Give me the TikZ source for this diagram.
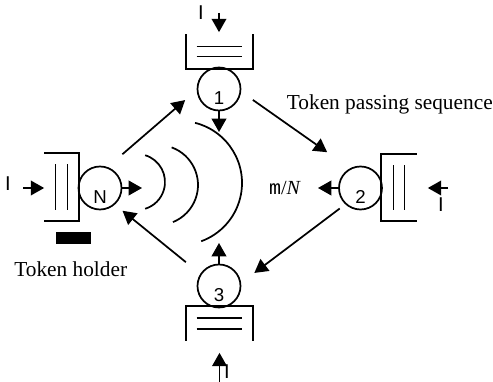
\documentclass[tikz,border=0pt]{standalone}
\usepackage{fontspec}
\setmainfont{Liberation Serif}
\newfontfamily\arialfont{Liberation Sans}
\newfontfamily\ratefont{Liberation Mono}
\usetikzlibrary{arrows.meta,calc}
\tikzset{
  conn/.style={-{Triangle[length=10pt,width=11pt]}},
  station/.style={circle,draw,minimum size=32.25pt,inner sep=0pt},
  queuebox/.style={minimum width=48.75pt,minimum height=24.75pt,inner sep=0pt},
  num/.style={font=\arialfont\fontsize{14}{14}\selectfont,inner sep=0pt,yshift=-7pt},
  inlabel/.style={font=\arialfont\fontsize{15}{15}\selectfont,inner sep=0pt},
  caption/.style={font=\fontsize{16}{16}\selectfont,inner sep=0pt},
}
\begin{document}
\begin{tikzpicture}[x=0.75pt,y=0.75pt,line width=1.3pt]
\useasboundingbox (0,0) rectangle (493,382);

\node[queuebox] (q1) at (219.5,330.5) {};
\node[queuebox] (q3) at (219.5,58.5) {};
\node[queuebox,minimum width=24.75pt,minimum height=49.5pt] (qN) at (61.5,195) {};
\node[queuebox,minimum width=25.5pt,minimum height=48.75pt] (q2) at (399,194.5) {};

\draw (q1.north west) |- (q1.south east) -- (q1.north east);
\draw ($(q1.west)+(10.5,5)$) -- ($(q1.east)+(-10.5,5)$);
\draw ($(q1.west)+(10.5,-5)$) -- ($(q1.east)+(-10.5,-5)$);
\draw (q3.south west) |- (q3.north east) -- (q3.south east);
\draw ($(q3.west)+(10.5,5.5)$) -- ($(q3.east)+(-10.5,5.5)$);
\draw ($(q3.west)+(10.5,-5.5)$) -- ($(q3.east)+(-10.5,-5.5)$);
\draw (qN.north west) -| (qN.south east) -- (qN.south west);
\draw ($(qN.north)+(-6,-11)$) -- ($(qN.south)+(-6,11)$);
\draw ($(qN.north)+(6,-11)$) -- ($(qN.south)+(6,11)$);
\draw (q2.north east) -| (q2.south west) -- (q2.south east);
\draw ($(q2.north)+(-5.5,-11)$) -- ($(q2.south)+(-5.5,11)$);
\draw ($(q2.north)+(5.5,-11)$) -- ($(q2.south)+(5.5,11)$);

\node[station,label={[num]center:1}] (c1) at (219,293) {};
\node[station,label={[num]center:N}] (cN) at (100,194) {};
\node[station,label={[num]center:2}] (c2) at (360.5,194) {};
\node[station,label={[num]center:3}] (c3) at (219,96) {};

\draw[conn,shorten <=14.6pt,shorten >=11.4pt] (cN.70) -- (c1.183);
\draw[conn,shorten <=10.7pt,shorten >=20.9pt] (c1.353) -- (c2.118);
\draw[conn,shorten <=5.2pt,shorten >=12.4pt] (c2.227.6) -- (c3.8.5);
\draw[conn,shorten <=13.9pt,shorten >=7.3pt] (c3.147.4) -- (cN.312.4);

\draw (180,199) ++(76:46.5pt) arc[start angle=76,end angle=-70,radius=46.5pt];
\draw (158,197) ++(70:30pt) arc[start angle=70,end angle=-68,radius=30pt];
\draw (137,200) ++(73:21pt) arc[start angle=73,end angle=-73,radius=21pt];

\coordinate (w1) at (219,250);
\coordinate (wN) at (142,194);
\coordinate (w2) at (318,194);
\coordinate (w3) at (219,139);
\draw[conn] (c1.south) -- (w1);
\draw[conn] (cN.east) -- (wN);
\draw[conn] (c2.west) -- (w2);
\draw[conn] (c3.north) -- (w3);

\coordinate (in1) at (219,369);
\coordinate (inN) at (23,194);
\coordinate (in2) at (448,194);
\coordinate (in3) at (219.5,0);
\draw[conn,shorten >=1.5pt] (in1) -- (in1 |- q1.north);
\draw[conn] (inN) -- (inN -| qN.west);
\draw[conn,shorten >=8.25pt] (in2) -- (in2 -| q2.east);
\draw[conn,shorten >=9pt] (in3) -- (in3 |- q3.south);

\node[inlabel] (i1) at (201,369) {I};
\node[inlabel] (iN) at (8,198.5) {I};
\node[inlabel] (i2) at (441,177) {I};
\node[inlabel,anchor=south] (i3) at (227,3) {I};

\node[caption,anchor=base west] (seq) at (286,272) {Token passing sequence};
\node[caption,anchor=base east] (holder) at (128,105) {Token holder};
\node[caption,anchor=base,font=\fontsize{15}{15}\selectfont] (rate) at (285,187) {{\ratefont m}/\textit{N}};
\fill ($(qN.south)+(-5.5,-11)$) rectangle ($(qN.south)+(29.5,-23)$);
\end{tikzpicture}
\end{document}
